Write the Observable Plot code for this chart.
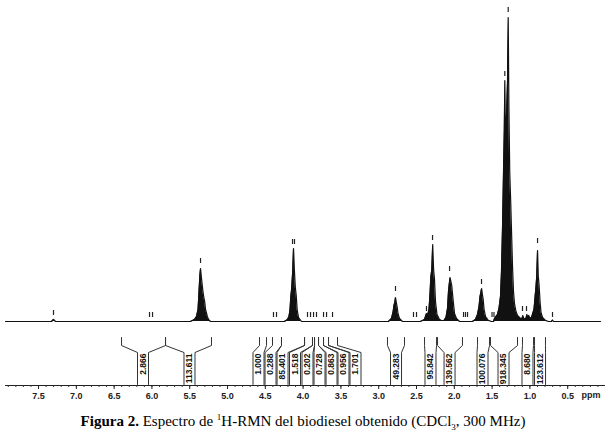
<!DOCTYPE html>
<html><head><meta charset="utf-8">
<script src="https://cdn.jsdelivr.net/npm/d3@7"></script>
<script src="https://cdn.jsdelivr.net/npm/@observablehq/plot@0.6"></script>
<style>
body{margin:0;background:#fff;width:608px;height:437px;overflow:hidden}
#cap{font-family:"Liberation Serif","Times New Roman",serif;font-size:15px;text-align:center;line-height:18px;color:#000;margin-top:2px;width:606px}
#cap sup,#cap sub{font-size:9px;line-height:0}
</style></head><body>
<div id="chart"></div>
<div id="cap"><b>Figura 2.</b> Espectro de <sup>1</sup>H-RMN del biodiesel obtenido (CDCl<sub>3</sub>, 300 MHz)</div>
<script>
// ---- spectrum (chemical shift in ppm, intensity in arbitrary units) ----
const specPpm = [7.937,
  7.328,7.302,7.275,
  5.489,5.437,5.410,5.390,5.377,5.366,5.357,5.348,5.337,5.325,5.313,5.302,5.291,5.280,5.267,5.251,5.225,
  4.246,4.206,4.187,4.173,4.163,4.151,4.138,4.127,4.116,4.103,4.091,4.079,4.061,4.021,
  2.870,2.831,2.811,2.798,2.787,2.778,2.767,2.757,2.745,2.725,2.685,
  2.447,2.394,2.368,2.354,2.335,2.321,2.311,2.298,2.286,2.274,2.262,2.249,2.229,2.196,2.169,
  2.136,2.110,2.090,2.077,2.066,2.056,2.045,2.034,2.024,2.011,1.997,1.971,1.931,
  1.759,1.720,1.693,1.673,1.660,1.649,1.639,1.628,1.618,1.606,1.587,1.548,1.508,
  1.481,1.468,1.429,1.409,1.389,1.376,1.362,1.349,1.339,1.332,1.324,1.310,1.296,1.287,1.278,1.267,1.254,1.243,1.230,1.217,1.204,1.184,1.164,1.124,
  1.104,1.094,1.082,1.052,1.040,1.028,1.015,0.999,0.979,
  0.966,0.946,0.931,0.919,0.910,0.899,0.889,0.878,0.866,0.853,0.833,0.794,0.754,
  0.714,0.701,0.688,
  0.066];
const specInt = [0,
  0,2,0,
  0,2,5,12,30,46,53,46,38,30,24,20,12,9,5,2,0,
  0,2,5,12,25,33,50,73,52,34,26,12,4,0,
  0,3,9,16,19,24,19,15,8,3,0,
  0,2,8,6,12,28,44,52,77,52,42,20,7,2,1,
  1,4,13,30,38,44,40,36,28,18,8,3,0,
  0,2,7,15,25,29,33,27,22,12,5,1,0,
  0,3,7,13,25,50,95,150,190,241,190,205,240,304,215,150,120,90,55,30,18,10,6,3,
  3,6,3,3,7,4,6,3,4,
  7,12,25,35,45,71,45,36,20,9,4,1,0,
  0,1.5,0,
  0];
// ---- peak-picking marks (ppm, intensity level of the mark) ----
const pickPpm = [7.302,6.032,5.992,5.357,4.392,4.352,4.140,4.114,3.942,3.902,3.862,3.823,3.730,3.690,3.611,
  2.778,2.540,2.500,2.368,2.288,2.063,1.878,1.852,1.825,1.640,1.501,1.475,1.332,1.287,1.098,1.045,0.899,0.701];
const pickLevel = [6,4,4,58,4,4,77,77,4,4,4,4,4,4,4,
  30,4,4,10,81,50,4,4,4,37,4,4,245,309,10,10,78,4];
// ---- integrals ----
const intLabels = ["2.866","113.611","1.000","0.288","85.401","1.518","0.202","0.728","0.863","0.956","1.701",
  "49.283","95.842","139.562","100.076","918.345","8.680","123.612"];
const intFrom = [6.402,5.820,4.577,4.405,4.286,3.981,3.876,3.849,3.796,3.730,3.664,2.884,2.394,2.222,1.693,1.521,1.098,0.939];
const intTo   = [5.820,5.212,4.484,4.286,3.981,3.876,3.849,3.796,3.730,3.664,3.545,2.659,2.235,1.892,1.534,1.164,0.952,0.794];
const intAt   = [6.118,5.503,4.590,4.431,4.272,4.107,3.942,3.783,3.624,3.466,3.307,2.771,2.315,2.063,1.627,1.349,1.032,0.866];
// ---- axis ----
const tickLabels = ["7.5","7.0","6.5","6.0","5.5","5.0","4.5","4.0","3.5","3.0","2.5","2.0","1.5","1.0","0.5"];
const axisUnit = "ppm";

const spectrum = specPpm.map((p, i) => ({ppm: p, h: specInt[i]}));
const picks = pickPpm.map((p, i) => ({ppm: p, h: pickLevel[i]}));
const tickValues = tickLabels.map(Number);
const minorTicks = d3.range(1, 80).map(d => d / 10);

// layout (y units equal pixels; baseline at 0)
const X0 = 7.937, X1 = 0;
const PX = (X0 - X1) / 600;
const yTop = -16, yKnee = -24, yBox = -31, yBottom = -63, yAxis = -64;
const half = 5.5 * PX;
const brackets = [];
intLabels.forEach((lab, i) => {
  [[intFrom[i], intAt[i] + half], [intTo[i], intAt[i] - half]].forEach(([top, box], k) => {
    const id = i * 2 + k;
    brackets.push({id, ppm: top, y: yTop}, {id, ppm: top, y: yKnee}, {id, ppm: box, y: yBox}, {id, ppm: box, y: yBottom});
  });
});
const labels = intLabels.map((t, i) => ({t, ppm: intAt[i]}));

const chart = Plot.plot({
  width: 608, height: 410,
  marginLeft: 5, marginRight: 3, marginTop: 5, marginBottom: 25,
  style: {fontFamily: "'Liberation Sans', Arial, sans-serif", background: "#fff"},
  x: {domain: [X0, X1], axis: null},
  y: {domain: [yAxis, 316], axis: null},
  marks: [
    Plot.areaY(spectrum, {x: "ppm", y: "h", fill: "#111"}),
    Plot.line(spectrum, {x: "ppm", y: "h", stroke: "#111", strokeWidth: 1.2}),
    Plot.ruleX(picks, {x: "ppm", y1: "h", y2: d => d.h + 5, stroke: "#222", strokeWidth: 1.2}),
    Plot.line(brackets, {x: "ppm", y: "y", z: "id", stroke: "#333", strokeWidth: 1}),
    Plot.text(labels, {x: "ppm", y: yBox - 1, text: "t", rotate: -90, textAnchor: "end", fontSize: 8.5, fontWeight: "bold", fill: "#111"}),
    Plot.ruleY([yAxis], {stroke: "#222", strokeWidth: 1}),
    Plot.ruleX(minorTicks, {x: d => d, y1: yAxis, y2: yAxis - 2, stroke: "#333"}),
    Plot.axisX({ticks: tickValues, label: null, tickSize: 4, tickPadding: 3, tickFormat: d => tickLabels[tickValues.indexOf(d)], fontSize: 9, fontWeight: "bold", color: "#222"}),
    Plot.text([axisUnit], {frameAnchor: "bottom-right", dx: -5, dy: 12, textAnchor: "end", fontSize: 9, fontWeight: "bold", fill: "#222"})
  ]
});
document.getElementById("chart").appendChild(chart);
</script></body></html>
